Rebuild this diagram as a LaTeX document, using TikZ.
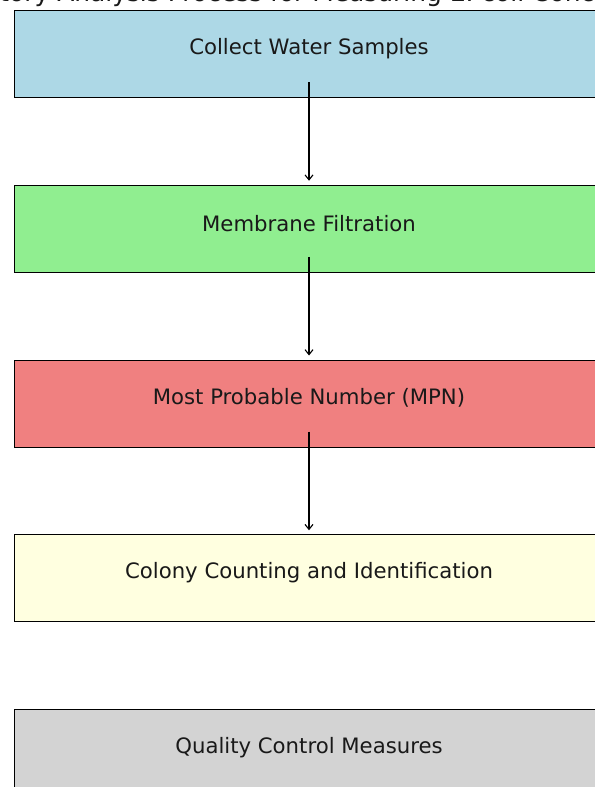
\documentclass[tikz,border=0pt]{standalone}
\usepackage{fontspec}
\setmainfont{DejaVu Sans}
\usetikzlibrary{arrows.meta}
\definecolor{lightblue}{HTML}{ADD8E6}
\definecolor{lightgreen}{HTML}{90EE90}
\definecolor{lightcoral}{HTML}{F08080}
\definecolor{lightyellow}{HTML}{FFFFE0}
\definecolor{lightgray}{HTML}{D3D3D3}
\tikzset{
    stepbox/.style={draw=black, line width=0.9bp, anchor=north west, minimum width=590bp, minimum height=87bp, inner sep=0pt},
    steptext/.style={font=\fontsize{21.3}{25}\selectfont, text=black!90},
}
\begin{document}
\begin{tikzpicture}[x=1bp,y=-1bp]
        \useasboundingbox (0,0) rectangle (595,787);
        \clip (0,0) rectangle (595,787);
        \node[anchor=base, font=\fontsize{25}{29}\selectfont, text=black!90] (title) at (311,1.5) {Laboratory Analysis Process for Measuring E. coli Concentration};
        \foreach \n/\col/\txt in {0/lightblue/Collect Water Samples, 1/lightgreen/Membrane Filtration, 2/lightcoral/Most Probable Number (MPN), 3/lightyellow/Colony Counting and Identification, 4/lightgray/Quality Control Measures} {
            \begin{scope}[shift={(0,174.75*\n)}]
                \node[stepbox, fill=\col] (box\n) at (14,10) {};
                \node[steptext] (text\n) at (309,48.5) {\txt};
                \coordinate (out\n) at (309,82);
                \coordinate (in\n) at (309,6);
            \end{scope}
        }
        \foreach \n/\m in {0/1,1/2,2/3} {
            \draw [black, line width=1.1bp, -{Straight Barb[length=5bp,width=8bp]}] (out\n) -- (in\m);
        }
    \end{tikzpicture}
\end{document}
